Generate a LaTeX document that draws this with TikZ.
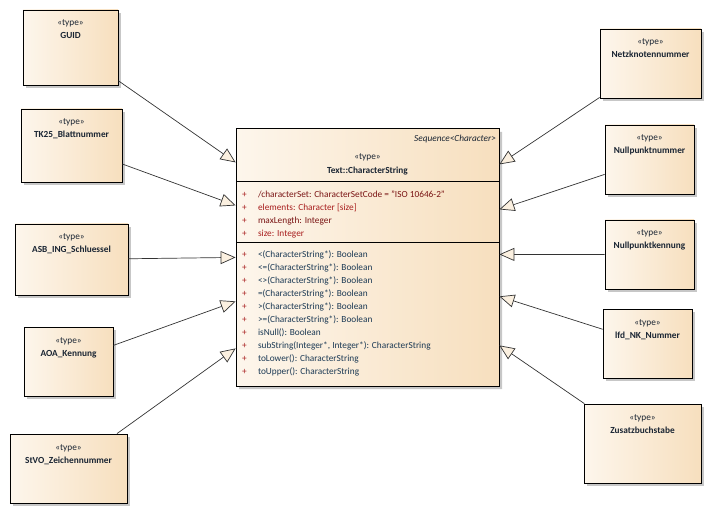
\documentclass[tikz,border=0pt]{standalone}
\usepackage{fontspec}
\setmainfont{Carlito}
\usetikzlibrary{arrows.meta}
\usetikzlibrary{shapes.multipart}
\usetikzlibrary{shadows}

\definecolor{boxleft}{HTML}{FDF6EC}
\definecolor{boxright}{HTML}{F7DFBE}
\definecolor{tipfill}{HTML}{FBF0E0}
\definecolor{namecol}{HTML}{1A2533}
\definecolor{attrdark}{HTML}{7A1414}
\definecolor{attrred}{HTML}{A81E1E}
\definecolor{opcol}{HTML}{1C3A55}

% text of a small type box: stereotype and name at the top
\newcommand{\boxtext}[3]{\parbox[t][#2bp][t]{#1bp}{\centering\rule{0pt}{16bp}«type»\\\textbf{#3}}}
\newcommand{\attrline}[2]{\hspace*{6bp}\makebox[16bp][l]{\textcolor{attrred}{+}}\textcolor{#1}{#2}\par}
\newcommand{\opline}[1]{\hspace*{6bp}\makebox[16bp][l]{\textcolor{attrred}{+}}\textcolor{opcol}{#1}\par}

\begin{document}
\begin{tikzpicture}[x=1bp,y=-1bp]
\tikzset{
  every node/.style={font=\fontsize{9.3bp}{13bp}\selectfont},
  typebox/.style={draw, inner sep=0pt, line width=0.8bp, left color=boxleft, right color=boxright, text=namecol,
    drop shadow={shadow xshift=3bp, shadow yshift=-3bp, fill=black!22, opacity=1}},
  realize/.style={draw=black!80, line width=0.7bp, -{Triangle[open, length=15bp, width=13bp, fill=tipfill]}}
}
\useasboundingbox (0,0) rectangle (712,514);

% the class in the middle
\node[typebox, rectangle split, rectangle split parts=3] (main) at (367.5,257.5) {%
\parbox[t][52bp][t]{263bp}{\raggedleft\rule{0pt}{12bp}\textit{Sequence<Character>}\hspace*{3bp}\par
  \vspace{5bp}\centering«type»\\[1bp]\textbf{Text::CharacterString}}
\nodepart{two}
\parbox[t][60bp][t]{263bp}{\rule{0pt}{16bp}%
  \attrline{attrdark}{/characterSet: CharacterSetCode = "ISO 10646-2"}
  \attrline{attrred}{elements: Character [size]}
  \attrline{attrdark}{maxLength: Integer}
  \attrline{attrred}{size: Integer}}
\nodepart{three}
\parbox[t][143bp][t]{263bp}{\rule{0pt}{15bp}%
  \opline{<(CharacterString*): Boolean}
  \opline{<=(CharacterString*): Boolean}
  \opline{<>(CharacterString*): Boolean}
  \opline{=(CharacterString*): Boolean}
  \opline{>(CharacterString*): Boolean}
  \opline{>=(CharacterString*): Boolean}
  \opline{isNull(): Boolean}
  \opline{subString(Integer*, Integer*): CharacterString}
  \opline{toLower(): CharacterString}
  \opline{toUpper(): CharacterString}}
};

% left column
\node[typebox] (guid) at (70.5,47.5) {\boxtext{95}{75}{GUID}};
\node[typebox] (tkblatt) at (71.5,145.5) {\boxtext{101}{73}{TK25\_Blattnummer}};
\node[typebox] (asb) at (71.5,259.5) {\boxtext{113}{71}{ASB\_ING\_Schluessel}};
\node[typebox] (aoa) at (68.5,361.5) {\boxtext{89}{69}{AOA\_Kennung}};
\node[typebox] (stvo) at (68.5,468.5) {\boxtext{117}{69}{StVO\_Zeichennummer}};

% right column
\node[typebox] (netz) at (650.5,63.5) {\boxtext{101}{69}{Netzknotennummer}};
\node[typebox] (npnummer) at (649.5,159.5) {\boxtext{89}{69}{Nullpunktnummer}};
\node[typebox] (npkennung) at (649.5,254.5) {\boxtext{89}{69}{Nullpunktkennung}};
\node[typebox] (lfdnk) at (647.5,343.5) {\boxtext{89}{69}{lfd\_NK\_Nummer}};
\node[typebox] (zusatz) at (642.5,443.5) {\boxtext{117}{79}{Zusatzbuchstabe}};

\foreach \src/\dy in {guid/34, tkblatt/77, asb/129, aoa/173, stvo/220}
  \draw[realize] (\src) -- ([yshift=-\dy bp]main.north west);
\foreach \src/\dy in {netz/36, npnummer/81, npkennung/126, lfdnk/168, zusatz/217}
  \draw[realize] (\src) -- ([yshift=-\dy bp]main.north east);

\end{tikzpicture}
\end{document}
